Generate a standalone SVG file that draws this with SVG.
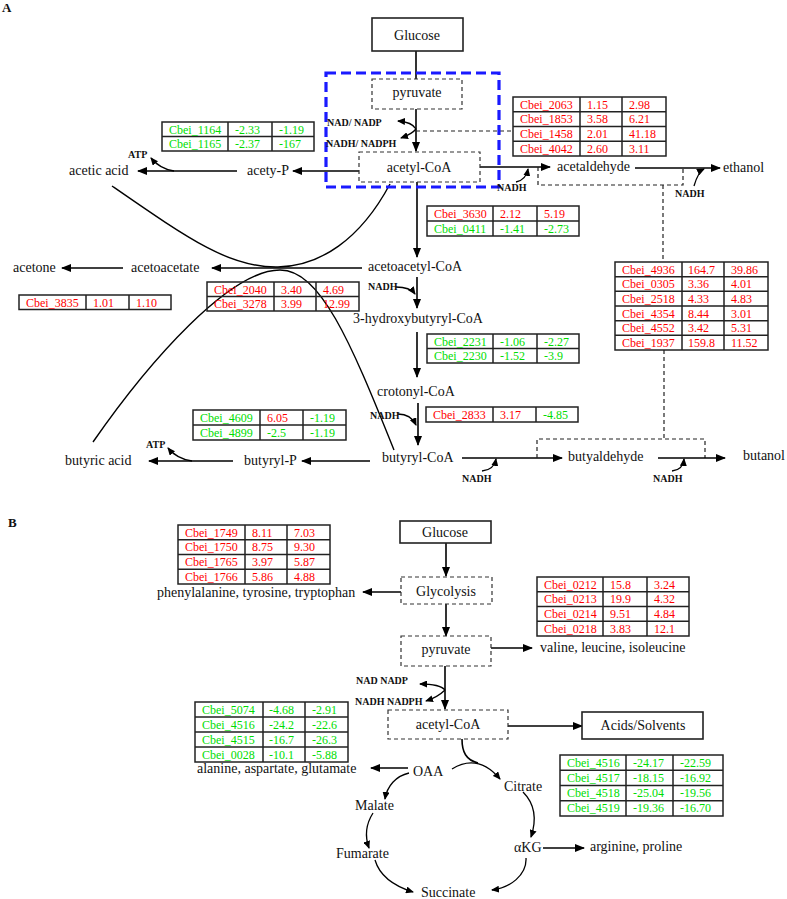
<svg xmlns="http://www.w3.org/2000/svg" width="787" height="899" viewBox="0 0 787 899">
<style>
text{font-family:"Liberation Serif","Times New Roman",serif;fill:#111}
.lb{font-size:14px}
.sm{font-size:10px;font-weight:bold}
.pl{font-size:13px;font-weight:bold}
.t{font-size:12px}
.r{fill:#ff0000}
.g{fill:#00dd00}
.box{fill:#fff;stroke:#222;stroke-width:1.6}
.dbox{fill:#fff;stroke:#333;stroke-width:1.2;stroke-dasharray:4,3}
.blue{fill:none;stroke:#1a1aff;stroke-width:3.2;stroke-dasharray:10,5}
.tb{fill:none;stroke:#222;stroke-width:1.5}
.tl{stroke:#222;stroke-width:1.5}
.ln{fill:none;stroke:#000;stroke-width:1.6}
.ar{fill:none;stroke:#000;stroke-width:1.6;marker-end:url(#ah)}
.cv{fill:none;stroke:#000;stroke-width:1.3;marker-end:url(#sh)}
.ds{fill:none;stroke:#222;stroke-width:1.2;stroke-dasharray:4,3}
.xc{fill:none;stroke:#000;stroke-width:1.4}
</style>
<defs>
<marker id="ah" markerUnits="userSpaceOnUse" markerWidth="10" markerHeight="8" refX="9" refY="4" orient="auto"><path d="M0,0 L10,4 L0,8 z" fill="#000"/></marker>
<marker id="sh" markerUnits="userSpaceOnUse" markerWidth="8" markerHeight="7" refX="7" refY="3.5" orient="auto"><path d="M0,0 L8,3.5 L0,7 z" fill="#000"/></marker>
</defs>

<text class="pl" x="2" y="12">A</text>
<text class="pl" x="8" y="527">B</text>

<!-- connectors -->
<g id="connectors">
<!-- Panel A -->
<path class="ln" d="M416,51 V79"/>
<path class="ar" d="M416,109 V151"/>
<path class="cv" d="M416,129 Q412,122 398,121"/>
<path class="cv" d="M416,129 Q412,134 401,138"/>
<path class="ds" d="M416,131 H512"/>
<path class="ar" d="M480,167 H550"/>
<path class="cv" d="M516,182 Q526,180 528,169"/>
<path class="ds" d="M538,167 V185 H683 V168"/>
<path class="ds" d="M663,185 V262"/>
<path class="ds" d="M664,350 V439"/>
<path class="ar" d="M635,168 H720"/>
<path class="cv" d="M694,186 Q698,172 704,169"/>
<path class="ar" d="M359,171 H293"/>
<path class="ar" d="M237,171 H138"/>
<path class="cv" d="M174,171 Q160,169 151,158"/>
<path class="ar" d="M417,182 V257"/>
<path class="ar" d="M362,268 H212"/>
<path class="ar" d="M123,268 H62"/>
<path class="ar" d="M417,277 V308"/>
<path class="cv" d="M396,287 Q410,287 415,294"/>
<path class="ar" d="M417,332 V377"/>
<path class="ar" d="M418,403 V445"/>
<path class="cv" d="M398,414 Q411,414 416,425"/>
<path class="ar" d="M370,461 H302"/>
<path class="ar" d="M233,461 H149"/>
<path class="cv" d="M192,461 Q177,459 168,448"/>
<path class="ar" d="M462,458 H562"/>
<path class="cv" d="M482,471 Q494,470 496,459"/>
<path class="ds" d="M537,458 V439 H705 V458"/>
<path class="ar" d="M658,458 H725"/>
<path class="cv" d="M672,471 Q683,470 684,459"/>
<path class="xc" d="M112,186 C190,240 230,268 278,267 C320,266 360,240 390,184"/>
<path class="xc" d="M93,442 C150,360 230,270 280,270 C320,270 350,340 394,450"/>
<!-- Panel B -->
<path class="ar" d="M446,543 V576"/>
<path class="ar" d="M401,592 H363"/>
<path class="ar" d="M446,604 V636"/>
<path class="ar" d="M491,648 H532"/>
<path class="ar" d="M445,666 V709"/>
<path class="cv" d="M445,690 Q440,684 420,684"/>
<path class="cv" d="M445,690 Q438,697 426,701"/>
<path class="ar" d="M508,726 H582"/>
<path class="ar" d="M408,768 H371"/>
<path class="ln" d="M462,739 C462,752 466,760 478,763"/>
<path class="cv" d="M452,769 Q478,753 500,779"/>
<path class="cv" d="M523,792 C536,805 536,822 531,837"/>
<path class="ar" d="M543,848 H584"/>
<path class="cv" d="M526,858 C527,875 510,888 492,890"/>
<path class="cv" d="M409,773 C396,776 387,786 385,799"/>
<path class="cv" d="M373,813 C366,824 365,837 369,848"/>
<path class="cv" d="M375,860 C380,877 397,887 413,892"/>
</g>

<!-- Panel A nodes -->
<g id="a-blue"><rect class="blue" x="326" y="73" width="173" height="114"/></g>
<g id="a-glucose"><rect class="box" x="372" y="18" width="91" height="33"/><text class="lb" x="417" y="40" text-anchor="middle">Glucose</text></g>
<g id="a-pyruvate"><rect class="dbox" x="372" y="79" width="90" height="30"/><text class="lb" x="417" y="97" text-anchor="middle">pyruvate</text></g>
<g id="a-acetylcoa"><rect class="dbox" x="359" y="152" width="121" height="30"/><text class="lb" x="419" y="172" text-anchor="middle">acetyl-CoA</text></g>
<g id="a-nad"><text class="sm" x="327" y="126">NAD/ NADP</text><text class="sm" x="326" y="147">NADH/ NADPH</text></g>
<g id="a-acetaldehyde"><text class="lb" x="557" y="171">acetaldehyde</text></g>
<g id="a-ethanol"><text class="lb" x="723" y="172">ethanol</text></g>
<g id="a-nadh1"><text class="sm" x="497" y="191">NADH</text></g>
<g id="a-nadh2"><text class="sm" x="675" y="197">NADH</text></g>
<g id="a-acetyp"><text class="lb" x="247" y="175">acety-P</text></g>
<g id="a-aceticacid"><text class="lb" x="69" y="175">acetic acid</text></g>
<g id="a-atp1"><text class="sm" x="128" y="158">ATP</text></g>
<g id="a-acetoacetylcoa"><text class="lb" x="368" y="271">acetoacetyl-CoA</text></g>
<g id="a-acetoacetate"><text class="lb" x="131" y="272">acetoacetate</text></g>
<g id="a-acetone"><text class="lb" x="13" y="272">acetone</text></g>
<g id="a-nadh3"><text class="sm" x="368" y="290">NADH</text></g>
<g id="a-hbcoa"><text class="lb" x="353" y="323">3-hydroxybutyryl-CoA</text></g>
<g id="a-crotonyl"><text class="lb" x="377" y="396">crotonyl-CoA</text></g>
<g id="a-nadh4"><text class="sm" x="370" y="419">NADH</text></g>
<g id="a-butyrylcoa"><text class="lb" x="382" y="462">butyryl-CoA</text></g>
<g id="a-butyrylp"><text class="lb" x="244" y="465">butyryl-P</text></g>
<g id="a-butyric"><text class="lb" x="65" y="465">butyric acid</text></g>
<g id="a-atp2"><text class="sm" x="146" y="448">ATP</text></g>
<g id="a-butyaldehyde"><text class="lb" x="568" y="461">butyaldehyde</text></g>
<g id="a-butanol"><text class="lb" x="743" y="460">butanol</text></g>
<g id="a-nadh5"><text class="sm" x="462" y="482">NADH</text></g>
<g id="a-nadh6"><text class="sm" x="653" y="482">NADH</text></g>

<!-- Tables A -->
<g id="t1">
<rect class="tb" x="513" y="97" width="153" height="59"/>
<path class="tl" d="M513,111.75H666M513,126.5H666M513,141.25H666M580,97V156M622,97V156"/>
<text class="t r" x="520" y="108.5">Cbei_2063</text><text class="t r" x="587" y="108.5">1.15</text><text class="t r" x="629" y="108.5">2.98</text>
<text class="t r" x="520" y="123.25">Cbei_1853</text><text class="t r" x="587" y="123.25">3.58</text><text class="t r" x="629" y="123.25">6.21</text>
<text class="t r" x="520" y="138">Cbei_1458</text><text class="t r" x="587" y="138">2.01</text><text class="t r" x="629" y="138">41.18</text>
<text class="t r" x="520" y="152.75">Cbei_4042</text><text class="t r" x="587" y="152.75">2.60</text><text class="t r" x="629" y="152.75">3.11</text>
</g>
<g id="t2">
<rect class="tb" x="162" y="122" width="152" height="29"/>
<path class="tl" d="M162,136.5H314M228,122V151M272,122V151"/>
<text class="t g" x="169" y="133.5">Cbei_1164</text><text class="t g" x="235" y="133.5">-2.33</text><text class="t g" x="279" y="133.5">-1.19</text>
<text class="t g" x="169" y="148">Cbei_1165</text><text class="t g" x="235" y="148">-2.37</text><text class="t g" x="279" y="148">-167</text>
</g>
<g id="t3">
<rect class="tb" x="427" y="206" width="152" height="30"/>
<path class="tl" d="M427,221H579M493,206V236M537,206V236"/>
<text class="t r" x="434" y="217.5">Cbei_3630</text><text class="t r" x="500" y="217.5">2.12</text><text class="t r" x="544" y="217.5">5.19</text>
<text class="t g" x="434" y="232.5">Cbei_0411</text><text class="t g" x="500" y="232.5">-1.41</text><text class="t g" x="544" y="232.5">-2.73</text>
</g>
<g id="t4">
<rect class="tb" x="19" y="295" width="152" height="14.5"/>
<path class="tl" d="M86,295V309.5M129,295V309.5"/>
<text class="t r" x="26" y="306.5">Cbei_3835</text><text class="t r" x="93" y="306.5">1.01</text><text class="t r" x="136" y="306.5">1.10</text>
</g>
<g id="t5">
<rect class="tb" x="207" y="282" width="152" height="29"/>
<path class="tl" d="M207,296.5H359M274,282V311M316,282V311"/>
<text class="t r" x="214" y="293.5">Cbei_2040</text><text class="t r" x="281" y="293.5">3.40</text><text class="t r" x="323" y="293.5">4.69</text>
<text class="t r" x="214" y="308">Cbei_3278</text><text class="t r" x="281" y="308">3.99</text><text class="t r" x="323" y="308">12.99</text>
</g>
<g id="t6">
<rect class="tb" x="427" y="334" width="152" height="29"/>
<path class="tl" d="M427,348.5H579M493,334V363M537,334V363"/>
<text class="t g" x="434" y="345.5">Cbei_2231</text><text class="t g" x="500" y="345.5">-1.06</text><text class="t g" x="544" y="345.5">-2.27</text>
<text class="t g" x="434" y="360">Cbei_2230</text><text class="t g" x="500" y="360">-1.52</text><text class="t g" x="544" y="360">-3.9</text>
</g>
<g id="t7">
<rect class="tb" x="426" y="407" width="152" height="15"/>
<path class="tl" d="M493,407V422M536,407V422"/>
<text class="t r" x="433" y="418.5">Cbei_2833</text><text class="t r" x="500" y="418.5">3.17</text><text class="t g" x="543" y="418.5">-4.85</text>
</g>
<g id="t8">
<rect class="tb" x="193" y="410" width="153" height="30"/>
<path class="tl" d="M193,425H346M260,410V440M303,410V440"/>
<text class="t g" x="200" y="421.5">Cbei_4609</text><text class="t r" x="267" y="421.5">6.05</text><text class="t g" x="310" y="421.5">-1.19</text>
<text class="t g" x="200" y="436.5">Cbei_4899</text><text class="t g" x="267" y="436.5">-2.5</text><text class="t g" x="310" y="436.5">-1.19</text>
</g>
<g id="t9">
<rect class="tb" x="615" y="262" width="153" height="88"/>
<path class="tl" d="M615,276.67H768M615,291.33H768M615,306H768M615,320.67H768M615,335.33H768M682,262V350M724,262V350"/>
<text class="t r" x="622" y="273.5">Cbei_4936</text><text class="t r" x="688" y="273.5">164.7</text><text class="t r" x="731" y="273.5">39.86</text>
<text class="t r" x="622" y="288.2">Cbei_0305</text><text class="t r" x="688" y="288.2">3.36</text><text class="t r" x="731" y="288.2">4.01</text>
<text class="t r" x="622" y="302.8">Cbei_2518</text><text class="t r" x="688" y="302.8">4.33</text><text class="t r" x="731" y="302.8">4.83</text>
<text class="t r" x="622" y="317.5">Cbei_4354</text><text class="t r" x="688" y="317.5">8.44</text><text class="t r" x="731" y="317.5">3.01</text>
<text class="t r" x="622" y="332.2">Cbei_4552</text><text class="t r" x="688" y="332.2">3.42</text><text class="t r" x="731" y="332.2">5.31</text>
<text class="t r" x="622" y="346.8">Cbei_1937</text><text class="t r" x="688" y="346.8">159.8</text><text class="t r" x="731" y="346.8">11.52</text>
</g>

<!-- Panel B nodes -->
<g id="b-glucose"><rect class="box" x="400" y="521" width="91" height="22"/><text class="lb" x="445" y="537" text-anchor="middle">Glucose</text></g>
<g id="b-glycolysis"><rect class="dbox" x="401" y="577" width="91" height="27"/><text class="lb" x="446" y="596" text-anchor="middle">Glycolysis</text></g>
<g id="b-phe"><text class="lb" x="157" y="597">phenylalanine, tyrosine, tryptophan</text></g>
<g id="b-pyruvate"><rect class="dbox" x="401" y="636" width="90" height="30"/><text class="lb" x="446" y="654" text-anchor="middle">pyruvate</text></g>
<g id="b-valine"><text class="lb" x="540" y="652">valine, leucine, isoleucine</text></g>
<g id="b-nad"><text class="sm" x="356" y="684">NAD NADP</text><text class="sm" x="355" y="705">NADH NADPH</text></g>
<g id="b-acetylcoa"><rect class="dbox" x="388" y="710" width="120" height="29"/><text class="lb" x="448" y="729" text-anchor="middle">acetyl-CoA</text></g>
<g id="b-acids"><rect class="box" x="582" y="712" width="121" height="27"/><text class="lb" x="643" y="730" text-anchor="middle">Acids/Solvents</text></g>
<g id="b-ala"><text class="lb" x="197" y="773">alanine, aspartate, glutamate</text></g>
<g id="b-oaa"><text class="lb" x="413" y="776">OAA</text></g>
<g id="b-citrate"><text class="lb" x="504" y="791">Citrate</text></g>
<g id="b-akg"><text class="lb" x="514" y="852">αKG</text></g>
<g id="b-arg"><text class="lb" x="590" y="851">arginine, proline</text></g>
<g id="b-malate"><text class="lb" x="355" y="810">Malate</text></g>
<g id="b-fumarate"><text class="lb" x="336" y="858">Fumarate</text></g>
<g id="b-succinate"><text class="lb" x="421" y="897">Succinate</text></g>

<!-- Tables B -->
<g id="t10">
<rect class="tb" x="178" y="525" width="152" height="59"/>
<path class="tl" d="M178,539.75H330M178,554.5H330M178,569.25H330M245,525V584M287,525V584"/>
<text class="t r" x="185" y="536.5">Cbei_1749</text><text class="t r" x="252" y="536.5">8.11</text><text class="t r" x="294" y="536.5">7.03</text>
<text class="t r" x="185" y="551.25">Cbei_1750</text><text class="t r" x="252" y="551.25">8.75</text><text class="t r" x="294" y="551.25">9.30</text>
<text class="t r" x="185" y="566">Cbei_1765</text><text class="t r" x="252" y="566">3.97</text><text class="t r" x="294" y="566">5.87</text>
<text class="t r" x="185" y="580.75">Cbei_1766</text><text class="t r" x="252" y="580.75">5.86</text><text class="t r" x="294" y="580.75">4.88</text>
</g>
<g id="t11">
<rect class="tb" x="537" y="577" width="152" height="59"/>
<path class="tl" d="M537,591.75H689M537,606.5H689M537,621.25H689M603,577V636M647,577V636"/>
<text class="t r" x="544" y="588.5">Cbei_0212</text><text class="t r" x="610" y="588.5">15.8</text><text class="t r" x="654" y="588.5">3.24</text>
<text class="t r" x="544" y="603.25">Cbei_0213</text><text class="t r" x="610" y="603.25">19.9</text><text class="t r" x="654" y="603.25">4.32</text>
<text class="t r" x="544" y="618">Cbei_0214</text><text class="t r" x="610" y="618">9.51</text><text class="t r" x="654" y="618">4.84</text>
<text class="t r" x="544" y="632.75">Cbei_0218</text><text class="t r" x="610" y="632.75">3.83</text><text class="t r" x="654" y="632.75">12.1</text>
</g>
<g id="t12">
<rect class="tb" x="195" y="702" width="153" height="60"/>
<path class="tl" d="M195,717H348M195,732H348M195,747H348M263,702V762M305,702V762"/>
<text class="t g" x="202" y="713.5">Cbei_5074</text><text class="t g" x="269" y="713.5">-4.68</text><text class="t g" x="312" y="713.5">-2.91</text>
<text class="t g" x="202" y="728.5">Cbei_4516</text><text class="t g" x="269" y="728.5">-24.2</text><text class="t g" x="312" y="728.5">-22.6</text>
<text class="t g" x="202" y="743.5">Cbei_4515</text><text class="t g" x="269" y="743.5">-16.7</text><text class="t g" x="312" y="743.5">-26.3</text>
<text class="t g" x="202" y="758.5">Cbei_0028</text><text class="t g" x="269" y="758.5">-10.1</text><text class="t g" x="312" y="758.5">-5.88</text>
</g>
<g id="t13">
<rect class="tb" x="560" y="755" width="163" height="61"/>
<path class="tl" d="M560,770.25H723M560,785.5H723M560,800.75H723M626,755V816M673,755V816"/>
<text class="t g" x="567" y="766.5">Cbei_4516</text><text class="t g" x="633" y="766.5">-24.17</text><text class="t g" x="680" y="766.5">-22.59</text>
<text class="t g" x="567" y="781.75">Cbei_4517</text><text class="t g" x="633" y="781.75">-18.15</text><text class="t g" x="680" y="781.75">-16.92</text>
<text class="t g" x="567" y="797">Cbei_4518</text><text class="t g" x="633" y="797">-25.04</text><text class="t g" x="680" y="797">-19.56</text>
<text class="t g" x="567" y="812.25">Cbei_4519</text><text class="t g" x="633" y="812.25">-19.36</text><text class="t g" x="680" y="812.25">-16.70</text>
</g>
</svg>
